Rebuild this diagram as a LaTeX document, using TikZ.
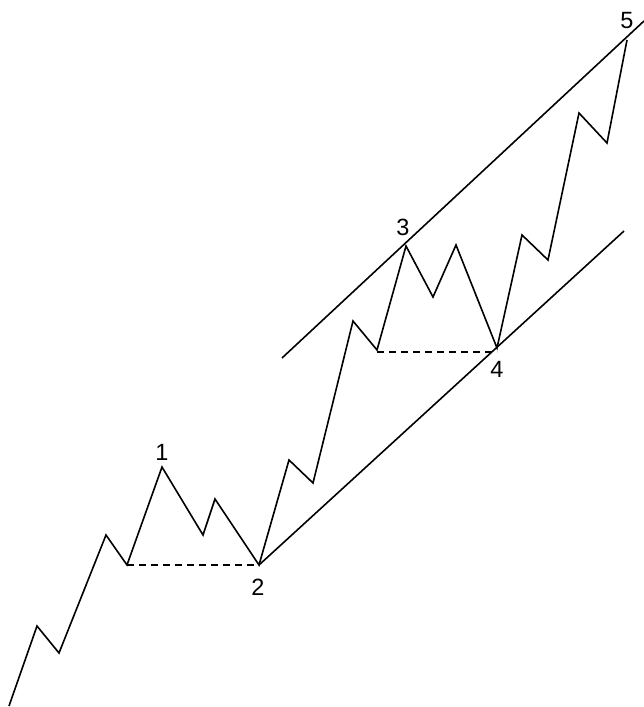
\documentclass[tikz,border=0pt]{standalone}
\usepackage{fontspec}
\setmainfont{Liberation Sans}
\usetikzlibrary{positioning, calc}

\begin{document}
\begin{tikzpicture}[
    x=1pt, y=-1pt,
    wave/.style={draw=black, line width=1.6pt, line join=miter},
    channel/.style={draw=black, line width=1.6pt},
    level line/.style={draw=black, line width=1.6pt, dash pattern=on 7pt off 5pt},
    wave label/.style={font=\fontsize{23.5}{28}\selectfont, inner sep=0pt},
]

% ══════════════════════════════════════════════════════════════════════
%  FRAME
% ══════════════════════════════════════════════════════════════════════
\useasboundingbox (0,0) rectangle (644,707);

% ── wave vertices ─────────────────────────────────────────────────────
\coordinate (s0) at (9,706);
\coordinate (a1) at (37,626);   \coordinate (a2) at (59,653);
\coordinate (a3) at (106,535);  \coordinate (a4) at (127,565);
\coordinate (p1) at (162,467);
\coordinate (b1) at (203,535);  \coordinate (b2) at (215,499);
\coordinate (p2) at (259,565);
\coordinate (c1) at (289,460);  \coordinate (c2) at (313,483);
\coordinate (c3) at (353,321);  \coordinate (c4) at (377,350);
\coordinate (p3) at (406,246);
\coordinate (d1) at (433,297);  \coordinate (d2) at (456,245);
\coordinate (p4) at (497,348);
\coordinate (e1) at (522,235);  \coordinate (e2) at (548,260);
\coordinate (e3) at (579,113);  \coordinate (e4) at (607,143);
\coordinate (p5) at (627,40);

% ── channel ends ──────────────────────────────────────────────────────
\coordinate (upL) at (282,358);
\coordinate (upR) at (644,21);
\coordinate (loR) at (624,231);

% ── wave ──────────────────────────────────────────────────────────────
\draw[wave] (s0) -- (a1) -- (a2) -- (a3) -- (a4) -- (p1) -- (b1) -- (b2)
    -- (p2) -- (c1) -- (c2) -- (c3) -- (c4) -- (p3) -- (d1) -- (d2)
    -- (p4) -- (e1) -- (e2) -- (e3) -- (e4) -- (p5);

% ── channel lines ─────────────────────────────────────────────────────
\draw[channel] (upL) -- (upR);
\draw[channel] (p2) -- (loR);

% ── level lines ───────────────────────────────────────────────────────
\draw[level line] (a4) -- (a4 -| p2);
\draw[level line] ($(c4)+(0,2)$) -- ($(c4 -| p4)+(0,2)$);

% ── labels ────────────────────────────────────────────────────────────
\node[wave label] (n1) at (162,452) {1};
\node[wave label] (n2) at (258,587) {2};
\node[wave label] (n3) at (403,227) {3};
\node[wave label] (n4) at (497,369) {4};
\node[wave label] (n5) at (627,21) {5};

\end{tikzpicture}
\end{document}
